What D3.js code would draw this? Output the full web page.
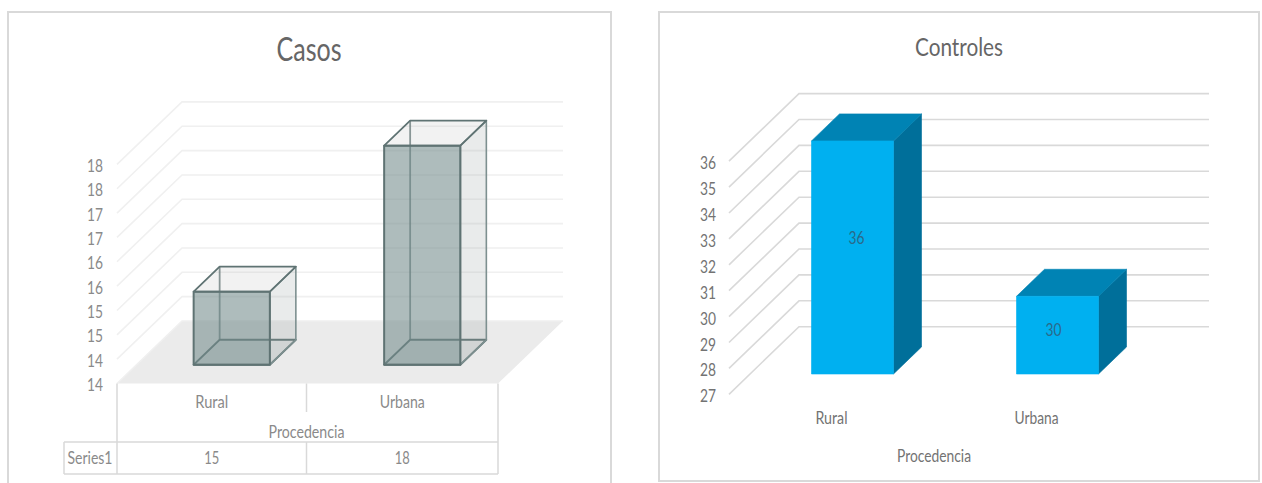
<!DOCTYPE html>
<html><head><meta charset="utf-8">
<script src="https://cdnjs.cloudflare.com/ajax/libs/d3/7.8.5/d3.min.js"></script>
<style>html,body{margin:0;padding:0;background:#fff;overflow:hidden}svg{display:block}text{font-family:Lato,"Open Sans",sans-serif}</style>
</head><body><svg id="c" width="1262" height="483"></svg>
<script>
const categories = ["Rural","Urbana"];
const casosValues = [15,18];
const casosTicks = [13.5,14,14.5,15,15.5,16,16.5,17,17.5,18];
const controlesValues = [36,30];
const controlesTicks = [27,28,29,30,31,32,33,34,35,36];
const axisTitle = "Procedencia";
const seriesName = "Series1";

const svg = d3.select("#c");
const tickLabel = v => String(Math.round(v));

function chart(o){
  const g = svg.append("g");
  g.append("rect").attr("x",o.box[0]).attr("y",o.box[1]).attr("width",o.box[2]).attr("height",o.box[3])
    .attr("fill","#fff").attr("stroke","#d9d9d9").attr("stroke-width",2);
  const x = d3.scaleBand().domain(categories).range([o.x0,o.x1]);
  const y = d3.scaleLinear().domain(d3.extent(o.ticks)).range([o.y0,o.yTop]);
  const zx = d3.scaleLinear().domain([0,1]).range([0,o.dx]);
  const zy = d3.scaleLinear().domain([0,1]).range([0,o.dy]);
  const P = (px,v,t)=>[px+zx(t), y(v)-zy(t)];
  const line = d3.line();
  const base = o.ticks[0];

  if(o.floor){
    g.append("path").attr("d",line([P(o.x0,base,0),P(o.x0,base,1),P(o.x1,base,1),P(o.x1,base,0)])+"Z").attr("fill",o.floor);
  }
  g.selectAll(null).data(o.ticks).join("path")
    .attr("d",d=>line([P(o.x0,d,0),P(o.x0,d,1),P(o.x1,d,1)]))
    .attr("fill","none").attr("stroke",o.grid).attr("stroke-width",1.6);
  g.selectAll(null).data(o.ticks).join("text")
    .attr("x",o.x0-o.tickGap).attr("y",d=>y(d)+o.tickDy).attr("text-anchor","end")
    .attr("font-size",o.tickSize).attr("fill",o.tickFill)
    .attr("textLength",16).attr("lengthAdjust","spacingAndGlyphs").text(tickLabel);

  const bw = x.bandwidth()*0.4;
  const T0=0.3, T1=0.7;
  categories.forEach((c,i)=>{
    const v = o.values[i];
    const l = x(c)+x.bandwidth()/2-bw/2, r = l+bw;
    const f = [P(l,base,T0),P(r,base,T0),P(r,v,T0),P(l,v,T0)];
    const b = [P(l,base,T1),P(r,base,T1),P(r,v,T1),P(l,v,T1)];
    const top = [f[3],f[2],b[2],b[3]];
    const side = [f[1],b[1],b[2],f[2]];
    const bottom = [f[0],f[1],b[1],b[0]];
    const face = (pts,fill,op,stroke,sw)=>g.append("path").attr("d",line(pts)+"Z").attr("fill",fill).attr("fill-opacity",op)
      .attr("stroke",stroke).attr("stroke-width",sw).attr("stroke-linejoin","round");
    if(o.glass){
      const s="#5f7373";
      face(bottom,"#8a9c9c",0.1,s,1.8);
      g.append("path").attr("d",line([b[0],b[3]])).attr("stroke",s).attr("stroke-opacity",.75).attr("stroke-width",1.8);
      face(side,"#8f9a9a",0.2,"#7d9090",1.6);
      face(top,"#9a9a9a",0.13,s,1.8);
      face(f,"#748b8b",0.58,s,2);
    } else {
      face(side,"#006f9a",1,"#006f9a",0.6);
      face(top,"#0083b4",1,"#0083b4",0.6);
      face(f,"#00b0f0",1,"#00b0f0",0.6);
      const ly = (y(v)+y(base))/2-zy(T0);
      g.append("text").attr("x",(l+r)/2+zx(T0)+o.labelNudge[i][0]).attr("y",ly+o.labelNudge[i][1]).attr("text-anchor","middle")
        .attr("font-size",17).attr("fill","#2a6a8a").attr("textLength",16).attr("lengthAdjust","spacingAndGlyphs").text(v);
    }
  });

  const label=(s,px,py,sz,fill,len)=>g.append("text").attr("x",px).attr("y",py).attr("text-anchor","middle")
    .attr("font-size",sz).attr("fill",fill).attr("textLength",len).attr("lengthAdjust","spacingAndGlyphs").text(s);
  label(o.title,o.titlePos[0],o.titlePos[1],o.titleSize,"#666666",o.titleLen);
  return {g,x,y,label,P};
}

const L = chart({box:[8,12,603,480],x0:117,x1:498,y0:383.5,yTop:164.4,dx:65,dy:62.5,ticks:casosTicks,values:casosValues,
  floor:"#ebebeb",grid:"#f0f0f0",tickGap:14,tickDy:7.5,tickSize:17,tickFill:"#8a8a8a",glass:true,title:"Casos",titlePos:[309,61],titleSize:32,titleLen:65});
const tbl="#d9d9d9";
const yTopT=L.y(casosTicks[0]);
const rows=[[117,yTopT,117,474],[306.5,yTopT,306.5,412],[498,yTopT,498,474],[64,442,498,442],[64,474,498,474],[64,442,64,474],[306.5,442,306.5,474]];
L.g.selectAll(null).data(rows).join("line").attr("x1",d=>d[0]).attr("y1",d=>d[1]).attr("x2",d=>d[2]).attr("y2",d=>d[3])
  .attr("stroke",tbl).attr("stroke-width",1.5);
const fillL="#8a8a8a";
categories.forEach((c,i)=>{
  const cx=L.x(c)+L.x.bandwidth()/2;
  L.label(c,cx-0.5,407.5,16.5,fillL,[33,45][i]);
  L.label(String(casosValues[i]),cx-0.5,463.5,16.5,fillL,15);
});
L.label(axisTitle,306.5,437.5,16.5,fillL,76);
L.label(seriesName,90,463.5,16.5,fillL,45);

const R = chart({box:[659,12,600,469],x0:729,x1:1139,y0:394.3,yTop:161.2,dx:70,dy:67.6,ticks:controlesTicks,values:controlesValues,
  grid:"#d9d9d9",tickGap:13,tickDy:8,tickSize:16.5,tickFill:"#737373",glass:false,labelNudge:[[4,-13],[-4,0.5]],title:"Controles",titlePos:[959,55.5],titleSize:25.5,titleLen:88});
categories.forEach((c,i)=>{
  R.label(c,R.x(c)+R.x.bandwidth()/2,424,16.5,"#737373",[32,44][i]);
});
R.label(axisTitle,934,461.5,16.5,"#737373",74);
</script></body></html>
